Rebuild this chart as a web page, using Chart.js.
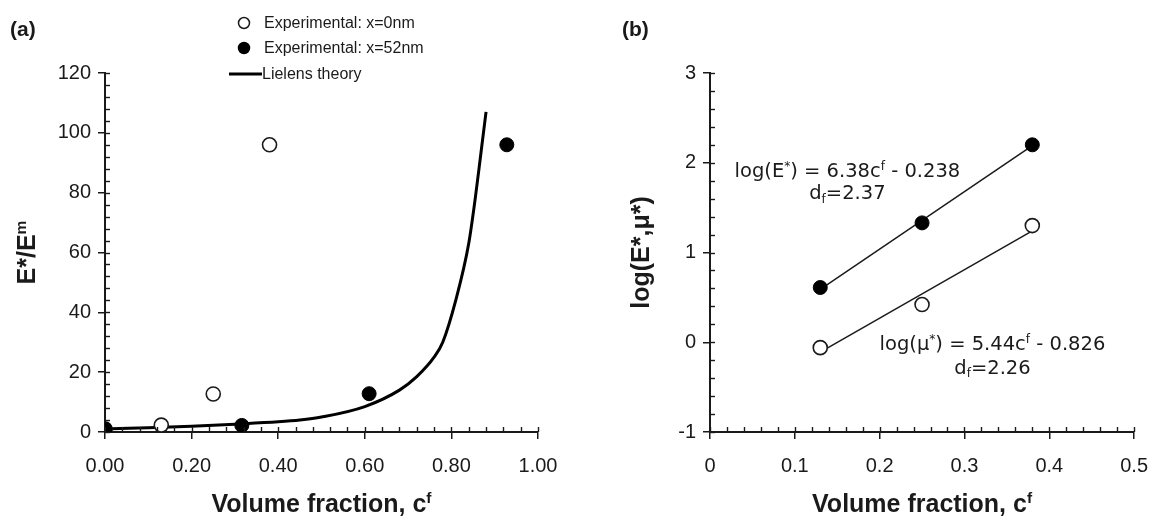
<!DOCTYPE html>
<html><head><meta charset="utf-8">
<script src="https://cdn.jsdelivr.net/npm/chart.js@4/dist/chart.umd.min.js"></script>
<style>
html,body{margin:0;padding:0;background:#fff;width:1163px;height:520px;overflow:hidden}
#ca{position:absolute;left:0;top:0}
#cb{position:absolute;left:580px;top:0}
</style></head><body>
<canvas id="ca" width="580" height="520"></canvas>
<canvas id="cb" width="583" height="520"></canvas>
<script>
// ---------- Panel (a) data ----------
const fracA_open = [0, 0.13, 0.25, 0.38];
const ratioA_open = [1, 2.3, 12.7, 96];
const fracA_filled = [0, 0.316, 0.61, 0.928];
const ratioA_filled = [1, 2.2, 12.8, 96];
const fracA_theory = [0, 0.1, 0.2, 0.3, 0.4, 0.45, 0.5, 0.6, 0.68, 0.72, 0.76, 0.78, 0.81, 0.84, 0.855, 0.868, 0.88];
const ratioA_theory = [1, 1.4, 1.9, 2.6, 3.4, 4, 5, 8.5, 14, 18.5, 25, 30, 44, 63, 78, 93, 107];
const legendLabelsA = ['Experimental: x=0nm', 'Experimental: x=52nm', 'Lielens theory'];
const xTicksA = [0, 0.2, 0.4, 0.6, 0.8, 1.0];
const yTicksA = [0, 20, 40, 60, 80, 100, 120];

// ---------- Panel (b) data ----------
const fracB = [0.13, 0.25, 0.38];
const logE = [0.61, 1.33, 2.2];
const logMu = [-0.06, 0.42, 1.3];
const fitE_x = [0.13, 0.38];
const fitE_y = [0.59, 2.19];
const fitMu_x = [0.13, 0.38];
const fitMu_y = [-0.11, 1.24];
const xTicksB = [0, 0.1, 0.2, 0.3, 0.4, 0.5];
const yTicksB = [-1, 0, 1, 2, 3];

const INK = '#1a1a1a';
const ARIAL = '"Liberation Sans", Arial, sans-serif';
const VERD = '"DejaVu Sans", Verdana, sans-serif';

function pts(xs, ys) { return xs.map((x, i) => ({x: x, y: ys[i]})); }

// rich text: parts [{t, sup, sub}]
function drawRich(ctx, parts, cx, cy, size, weight, family, rotate, align) {
  ctx.save();
  ctx.translate(cx, cy);
  if (rotate) ctx.rotate(-Math.PI / 2);
  let total = 0;
  const segs = parts.map(p => {
    const s = (p.sup || p.sub) ? size * 0.62 : size;
    ctx.font = weight + ' ' + s + 'px ' + family;
    const w = ctx.measureText(p.t).width;
    total += w;
    return {p, s, w};
  });
  let x = align === 'left' ? 0 : -total / 2;
  ctx.textBaseline = 'alphabetic';
  ctx.fillStyle = INK;
  const base = size * 0.36;
  segs.forEach(({p, s, w}) => {
    ctx.font = weight + ' ' + s + 'px ' + family;
    let dy = base;
    if (p.sup) dy -= size * 0.38;
    if (p.sub) dy += size * 0.18;
    ctx.fillText(p.t, x, dy);
    x += w;
  });
  ctx.restore();
}

// inner tick marks (major + minor) drawn through the chart scales
const innerTicks = {
  id: 'innerTicks',
  afterDraw(chart, args, o) {
    const ctx = chart.ctx, xs = chart.scales.x, ys = chart.scales.y, a = chart.chartArea;
    ctx.save();
    ctx.strokeStyle = INK;
    ctx.lineWidth = 1.4;
    const nx = Math.round((xs.max - xs.min) / o.xMinor);
    for (let i = 0; i <= nx; i++) {
      const v = xs.min + i * o.xMinor;
      const px = Math.round(xs.getPixelForValue(v)) + 0.5;
      ctx.beginPath(); ctx.moveTo(px, a.bottom); ctx.lineTo(px, a.bottom - 5); ctx.stroke();
    }
    const ny = Math.round((ys.max - ys.min) / o.yMinor);
    for (let i = 0; i <= ny; i++) {
      const v = ys.min + i * o.yMinor;
      const py = Math.round(ys.getPixelForValue(v)) + 0.5;
      ctx.beginPath(); ctx.moveTo(a.left, py); ctx.lineTo(a.left + 5, py); ctx.stroke();
    }
    ctx.restore();
  }
};

// text overlays: axis titles, panel label, legend, annotations
const overlay = {
  id: 'overlay',
  afterDraw(chart, args, o) {
    const ctx = chart.ctx, a = chart.chartArea;
    drawRich(ctx, o.panel, o.panelX, 28, 21, 'bold', ARIAL, false, 'left');
    drawRich(ctx, o.xTitle, (a.left + a.right) / 2, 503, 25, 'bold', ARIAL, false);
    drawRich(ctx, o.yTitle, o.yTitleX, (a.top + a.bottom) / 2, 25, 'bold', ARIAL, true);
    if (o.legend) {
      const ds = chart.data.datasets;
      ctx.save();
      const rows = [23, 48, 74];
      ds.forEach((d, i) => {
        const y = rows[i];
        if (d.showLine) {
          ctx.strokeStyle = d.borderColor; ctx.lineWidth = 3;
          ctx.beginPath(); ctx.moveTo(229, y); ctx.lineTo(262, y); ctx.stroke();
        } else {
          ctx.beginPath(); ctx.arc(244, y, 5.5, 0, Math.PI * 2);
          ctx.fillStyle = d.pointBackgroundColor; ctx.fill();
          ctx.lineWidth = 1.5; ctx.strokeStyle = d.pointBorderColor; ctx.stroke();
        }
        ctx.fillStyle = INK;
        ctx.font = '16px ' + ARIAL;
        ctx.textBaseline = 'middle';
        ctx.fillText(d.label, d.showLine ? 262 : 264, y + 1);
      });
      ctx.restore();
    }
    if (o.notes) {
      const xs = chart.scales.x, ys = chart.scales.y;
      o.notes.forEach(n => {
        drawRich(ctx, n.parts, xs.getPixelForValue(n.x), ys.getPixelForValue(n.y), 19.5, 'normal', VERD, false);
      });
    }
  }
};

function axisX(ticks, min, max, fmt) {
  return {
    type: 'linear', min: min, max: max,
    afterBuildTicks: s => { s.ticks = ticks.map(v => ({value: v})); },
    afterFit: s => { s.height = 88; },
    ticks: {callback: fmt, font: {family: ARIAL, size: 20}, color: INK, padding: 15, maxRotation: 0, autoSkip: false},
    grid: {display: true, drawOnChartArea: false, drawTicks: true, tickLength: 7, color: INK, lineWidth: 1.5},
    border: {display: true, color: INK, width: 2}
  };
}
function axisY(ticks, min, max, w, fmt) {
  return {
    type: 'linear', min: min, max: max,
    afterBuildTicks: s => { s.ticks = ticks.map(v => ({value: v})); },
    afterFit: s => { s.width = w; },
    ticks: {callback: fmt, font: {family: ARIAL, size: 20}, color: INK, padding: 7, autoSkip: false},
    grid: {display: true, drawOnChartArea: false, drawTicks: true, tickLength: 7, color: INK, lineWidth: 1.5},
    border: {display: true, color: INK, width: 2}
  };
}

new Chart(document.getElementById('ca'), {
  type: 'scatter',
  data: {datasets: [
    {label: legendLabelsA[0], data: pts(fracA_open, ratioA_open), pointRadius: 7, pointBackgroundColor: '#fff', pointBorderColor: INK, pointBorderWidth: 1.6, order: 1},
    {label: legendLabelsA[1], data: pts(fracA_filled, ratioA_filled), pointRadius: 7, pointBackgroundColor: '#000', pointBorderColor: '#000', pointBorderWidth: 1, order: 0},
    {label: legendLabelsA[2], data: pts(fracA_theory, ratioA_theory), showLine: true, pointRadius: 0, borderColor: '#000', borderWidth: 3, cubicInterpolationMode: 'monotone', order: 2}
  ]},
  options: {
    responsive: false, animation: false, devicePixelRatio: 1,
    layout: {padding: {top: 73, right: 42, left: 0, bottom: 0}},
    plugins: {
      legend: {display: false}, tooltip: {enabled: false},
      innerTicks: {xMinor: 0.04, yMinor: 4},
      overlay: {
        panel: [{t: '(a)'}], panelX: 10,
        xTitle: [{t: 'Volume fraction, c'}, {t: 'f', sup: true}],
        yTitle: [{t: 'E*/E'}, {t: 'm', sup: true}], yTitleX: 26,
        legend: true
      }
    },
    scales: {
      x: axisX(xTicksA, 0, 1, v => v.toFixed(2)),
      y: axisY(yTicksA, 0, 120, 105, v => String(v))
    }
  },
  plugins: [innerTicks, overlay]
});

new Chart(document.getElementById('cb'), {
  type: 'scatter',
  data: {datasets: [
    {label: 'log(E*) fit', data: pts(fitE_x, fitE_y), showLine: true, pointRadius: 0, borderColor: INK, borderWidth: 1.5, order: 1},
    {label: 'log(μ*) fit', data: pts(fitMu_x, fitMu_y), showLine: true, pointRadius: 0, borderColor: INK, borderWidth: 1.5, order: 1},
    {label: 'log(E*)', data: pts(fracB, logE), pointRadius: 7, pointBackgroundColor: '#000', pointBorderColor: '#000', pointBorderWidth: 1, order: 0},
    {label: 'log(μ*)', data: pts(fracB, logMu), pointRadius: 7, pointBackgroundColor: '#fff', pointBorderColor: INK, pointBorderWidth: 1.6, order: 0}
  ]},
  options: {
    responsive: false, animation: false, devicePixelRatio: 1,
    layout: {padding: {top: 73, right: 20, left: 0, bottom: 0}},
    plugins: {
      legend: {display: false}, tooltip: {enabled: false},
      innerTicks: {xMinor: 0.02, yMinor: 0.2},
      overlay: {
        panel: [{t: '(b)'}], panelX: 42,
        xTitle: [{t: 'Volume fraction, c'}, {t: 'f', sup: true}],
        yTitle: [{t: 'log(E*,μ*)'}], yTitleX: 60,
        legend: false,
        notes: [
          {x: 0.162, y: 1.92, parts: [{t: 'log(E'}, {t: '*', sup: true}, {t: ') = 6.38c'}, {t: 'f', sup: true}, {t: ' - 0.238'}]},
          {x: 0.162, y: 1.67, parts: [{t: 'd'}, {t: 'f', sub: true}, {t: '=2.37'}]},
          {x: 0.333, y: -0.01, parts: [{t: 'log(μ'}, {t: '*', sup: true}, {t: ') = 5.44c'}, {t: 'f', sup: true}, {t: ' - 0.826'}]},
          {x: 0.333, y: -0.27, parts: [{t: 'd'}, {t: 'f', sub: true}, {t: '=2.26'}]}
        ]
      }
    },
    scales: {
      x: axisX(xTicksB, 0, 0.5, v => String(Math.round(v * 10) / 10)),
      y: axisY(yTicksB, -1, 3, 130, v => String(v))
    }
  },
  plugins: [innerTicks, overlay]
});
</script>
</body></html>
